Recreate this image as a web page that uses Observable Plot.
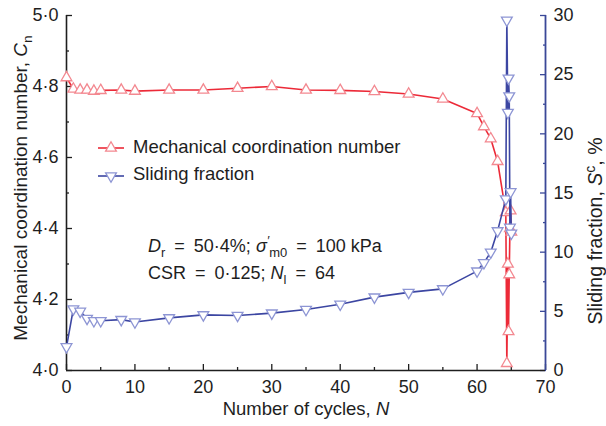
<!DOCTYPE html>
<html><head><meta charset="utf-8">
<script src="https://cdn.jsdelivr.net/npm/d3@7"></script>
<script src="https://cdn.jsdelivr.net/npm/@observablehq/plot@0.6"></script>
<style>
body{margin:0;background:#fff;}
#chart{width:606px;height:426px;}
</style></head><body><div id="chart"></div>
<script>
// ---- data ----
const cycles       = [0, 1, 2, 3, 4, 5, 8, 10, 15, 20, 25, 30, 35, 40, 45, 50, 55, 60, 61, 62, 63, 64.2, 64.35, 64.5, 64.6, 64.7, 64.8, 64.9, 65.0];
const coordination = [4.825, 4.793, 4.79, 4.79, 4.787, 4.789, 4.79, 4.787, 4.79, 4.79, 4.795, 4.80, 4.79, 4.789, 4.786, 4.779, 4.765, 4.724, 4.687, 4.653, 4.589, 4.445, 4.02, 4.30, 4.11, 4.27, 4.40, 4.45, 4.39];
const sliding      = [2.0, 5.2, 5.0, 4.4, 4.2, 4.2, 4.3, 4.1, 4.45, 4.7, 4.65, 4.85, 5.15, 5.6, 6.2, 6.6, 6.9, 8.4, 9.1, 10.0, 11.8, 14.5, 29.6, 21.8, 24.7, 23.2, 12.1, 15.1, 11.6];
const xTicks       = [0, 10, 20, 30, 40, 50, 60, 70];
const xMinorTicks  = [5, 15, 25, 35, 45, 55, 65];
const cnTicks      = [4.0, 4.2, 4.4, 4.6, 4.8, 5.0];
const cnMinorTicks = [4.1, 4.3, 4.5, 4.7, 4.9];
const sfTicks      = [0, 5, 10, 15, 20, 25, 30];
const sfMinorTicks = [2.5, 7.5, 12.5, 17.5, 22.5, 27.5];
const xDomain  = [0, 70];
const cnDomain = [4, 5];
const sfDomain = [0, 30];
const seriesNames = ["Mechanical coordination number", "Sliding fraction"];

// ---- helpers ----
const toCn = s => cnDomain[0] + (s - sfDomain[0]) * (cnDomain[1] - cnDomain[0]) / (sfDomain[1] - sfDomain[0]);
const fromCn = c => sfDomain[0] + (c - cnDomain[0]) * (sfDomain[1] - sfDomain[0]) / (cnDomain[1] - cnDomain[0]);
const midDot = v => d3.format(".1f")(v).replace(".", "·");

const cnData = cycles.map((n, i) => ({n, v: coordination[i]}));
const sfData = cycles.map((n, i) => ({n, v: toCn(sliding[i])}));

const red = "#ec2a38", redMarker = "#f38890";
const blue = "#3c46a2", blueMarker = "#8d95d4";
const axisBlue = "#3a4898";
const ink = "#1e1e1e";
const font = "'Liberation Sans', Arial, Helvetica, sans-serif";
const EQ = "\u2002=\u2002";

const plot = Plot.plot({
  width: 606, height: 426,
  marginLeft: 66, marginRight: 61, marginTop: 15, marginBottom: 56,
  style: {fontFamily: font, fontSize: "18px", background: "white", color: ink, overflow: "visible"},
  x: {domain: xDomain},
  y: {domain: cnDomain},
  marks: [
    // bottom axis
    Plot.axisX({ticks: xTicks, tickSize: 0, tickPadding: 10, tickFormat: d => d, label: null, fontSize: 18}),
    Plot.axisX({ticks: xTicks, tickSize: -6, fill: "none", label: null, strokeWidth: 1.3}),
    Plot.axisX({ticks: xMinorTicks, tickSize: -3, fill: "none", label: null, strokeWidth: 1.3}),
    // left axis
    Plot.axisY({ticks: cnTicks, tickSize: 0, tickPadding: 8, tickFormat: midDot, label: null, fontSize: 18}),
    Plot.axisY({ticks: cnTicks, tickSize: -6, fill: "none", label: null, strokeWidth: 1.3}),
    Plot.axisY({ticks: cnMinorTicks, tickSize: -3, fill: "none", label: null, strokeWidth: 1.3}),
    // right axis
    Plot.axisY({anchor: "right", ticks: sfTicks.map(toCn), tickSize: 0, tickPadding: 8,
      tickFormat: d => d3.format("d")(Math.round(fromCn(d))), label: null, fontSize: 18}),
    Plot.axisY({anchor: "right", ticks: sfTicks.map(toCn), tickSize: -6, fill: "none", stroke: axisBlue, label: null, strokeWidth: 1.3}),
    Plot.axisY({anchor: "right", ticks: sfMinorTicks.map(toCn), tickSize: -3, fill: "none", stroke: axisBlue, label: null, strokeWidth: 1.3}),
    // axis lines
    Plot.ruleY([cnDomain[0]], {stroke: ink, strokeWidth: 1.6}),
    Plot.ruleX([xDomain[0]], {stroke: ink, strokeWidth: 1.6}),
    Plot.ruleX([xDomain[1]], {stroke: axisBlue, strokeWidth: 1.8}),
    // series
    Plot.line(cnData, {x: "n", y: "v", stroke: red, strokeWidth: 1.6}),
    Plot.dot(cnData, {x: "n", y: "v", symbol: "triangle", r: 4, stroke: redMarker, fill: "white", strokeWidth: 1.3}),
    Plot.line(sfData, {x: "n", y: "v", stroke: blue, strokeWidth: 1.6}),
    Plot.dot(sfData, {x: "n", y: "v", symbol: "triangle", rotate: 180, r: 4, stroke: blueMarker, fill: "white", strokeWidth: 1.3})
  ]
});

const svg = d3.select(plot);

// rich text helper: parts [text, style] where style in {"", "i", "sub", "isub", "sup", "isup"}
function rich(g, parts, attrs) {
  const t = g.append("text").attr("font-family", font).attr("fill", ink).attr("text-anchor", "start");
  for (const k in attrs) t.attr(k, attrs[k]);
  let shift = 0;
  for (const [txt, st] of parts) {
    const s = t.append("tspan").text(txt);
    let target = 0;
    if (st.includes("sub")) target = 5;
    if (st.includes("sup")) target = -7;
    if (target !== shift) { s.attr("dy", target - shift); shift = target; }
    if (st.includes("i")) s.attr("font-style", "italic");
    if (st.includes("sub") || st.includes("sup")) s.attr("font-size", "0.72em");
  }
  return t;
}

// axis titles
rich(svg, [["Number of cycles, ", ""], ["N", "i"]],
  {x: 306, y: 415, "text-anchor": "middle", "font-size": 18.5});
rich(svg, [["Mechanical coordination number, ", ""], ["C", "i"], ["n", "sub"]],
  {transform: "translate(27,188) rotate(-90)", "text-anchor": "middle", "font-size": 19});
rich(svg, [["Sliding fraction, ", ""], ["S", "i"], ["c", "sup"], [", %", ""]],
  {transform: "translate(602,231) rotate(-90)", "text-anchor": "middle", "font-size": 19.5});

// legend
const tri = d3.symbol(d3.symbolTriangle, Math.PI * 16)();
const legend = svg.append("g");
[[red, redMarker, 0, 148, 153], [blue, blueMarker, 180, 176, 180]].forEach(([c, m, rot, ly, ty], i) => {
  legend.append("line").attr("x1", 98).attr("x2", 124).attr("y1", ly).attr("y2", ly)
    .attr("stroke", c).attr("stroke-width", 1.6);
  legend.append("path").attr("d", tri).attr("transform", `translate(111,${ly}) rotate(${rot})`)
    .attr("fill", "white").attr("stroke", m).attr("stroke-width", 1.3);
  rich(legend, [[seriesNames[i], ""]], {x: 133, y: ty, "font-size": 18.5});
});

// annotation
rich(svg, [["D", "i"], ["r", "sub"], [EQ + "50·4%; ", ""], ["σ", "i"], ["′", "isup"], ["m0", "sub"], [EQ + "100 kPa", ""]],
  {x: 148, y: 252, "font-size": 18});
rich(svg, [["CSR" + EQ + "0·125; ", ""], ["N", "i"], ["l", "sub"], [EQ + "64", ""]],
  {x: 148, y: 279, "font-size": 18});

document.getElementById("chart").appendChild(plot);
</script>
</body></html>
